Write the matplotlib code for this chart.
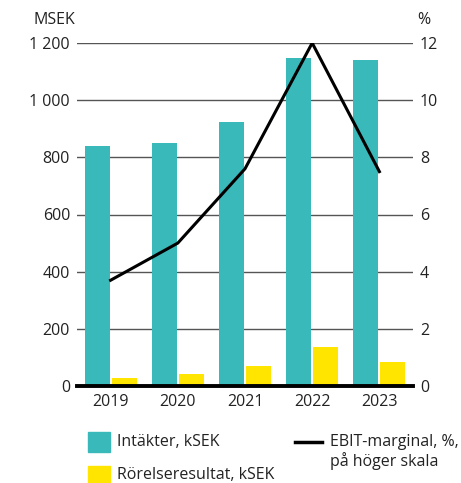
import numpy as np
import matplotlib.pyplot as plt
from matplotlib.patches import Rectangle
from matplotlib.lines import Line2D

plt.rcParams['font.family'] = ['Open Sans', 'DejaVu Sans']

years = ['2019', '2020', '2021', '2022', '2023']
intakter = [840, 850, 924, 1148, 1140]
rorelseresultat = [29, 42, 70, 136, 85]
ebit_marginal = [3.7, 5.0, 7.6, 12.0, 7.5]

left_ticks = [0, 200, 400, 600, 800, 1000, 1200]
left_labels = ['0', '200', '400', '600', '800', '1 000', '1 200']
right_ticks = [0, 2, 4, 6, 8, 10, 12]

teal = '#3ab9ba'
yellow = '#ffe500'
txt = '#222222'
fs = 11.5

W, H = 461, 483
fig = plt.figure(figsize=(W / 100, H / 100), dpi=100)
ax = fig.add_axes([77 / W, 1 - 386 / H, 336 / W, 343 / H])

x = np.arange(len(years))
bw = 0.372
ax.bar(x - 0.2, intakter, width=bw, color=teal, zorder=2)
ax.bar(x + 0.2, rorelseresultat, width=bw, color=yellow, zorder=2)

ax.set_xlim(-0.5, 4.5)
ax.set_ylim(0, 1200)
ax.set_yticks(left_ticks)
ax.set_yticklabels(left_labels)
ax.set_xticks(x)
ax.set_xticklabels(years)
ax.grid(axis='y', color='#555555', linewidth=1.0, zorder=0)
ax.tick_params(axis='y', length=0, pad=5, labelsize=fs, colors=txt)
ax.tick_params(axis='x', length=0, pad=6, labelsize=fs, colors=txt)
for s in ['top', 'right', 'left']:
    ax.spines[s].set_visible(False)
ax.spines['bottom'].set_linewidth(2.8)
ax.spines['bottom'].set_color('black')
ax.spines['bottom'].set_zorder(5)

ax2 = ax.twinx()
ax2.plot(x, ebit_marginal, color='black', linewidth=2.2, zorder=4)
ax2.set_ylim(0, 12)
ax2.set_yticks(right_ticks)
ax2.tick_params(axis='y', length=0, pad=5, labelsize=fs, colors=txt)
for s in ax2.spines.values():
    s.set_visible(False)

fig.text(33 / W, 1 - 20 / H, 'MSEK', fontsize=fs, color=txt, va='center')
fig.text(417 / W, 1 - 20 / H, '%', fontsize=fs, color=txt, va='center')

# legend
fig.patches.append(Rectangle((88 / W, 1 - 452 / H), 22 / W, 20 / H,
                             transform=fig.transFigure, color=teal))
fig.patches.append(Rectangle((88 / W, 1 - 486 / H), 22 / W, 20 / H,
                             transform=fig.transFigure, color=yellow))
fig.text(117 / W, 1 - 442 / H, 'Intäkter, kSEK', fontsize=fs, color=txt, va='center')
fig.text(117 / W, 1 - 475 / H, 'Rörelseresultat, kSEK', fontsize=fs, color=txt, va='center')
fig.lines.append(Line2D([295 / W, 322 / W], [1 - 442 / H, 1 - 442 / H],
                        transform=fig.transFigure, color='black', linewidth=2.5))
fig.text(330 / W, 1 - 442 / H, 'EBIT-marginal, %,', fontsize=fs, color=txt, va='center')
fig.text(330 / W, 1 - 461 / H, 'på höger skala', fontsize=fs, color=txt, va='center')

fig.savefig('out.png', dpi=100)
